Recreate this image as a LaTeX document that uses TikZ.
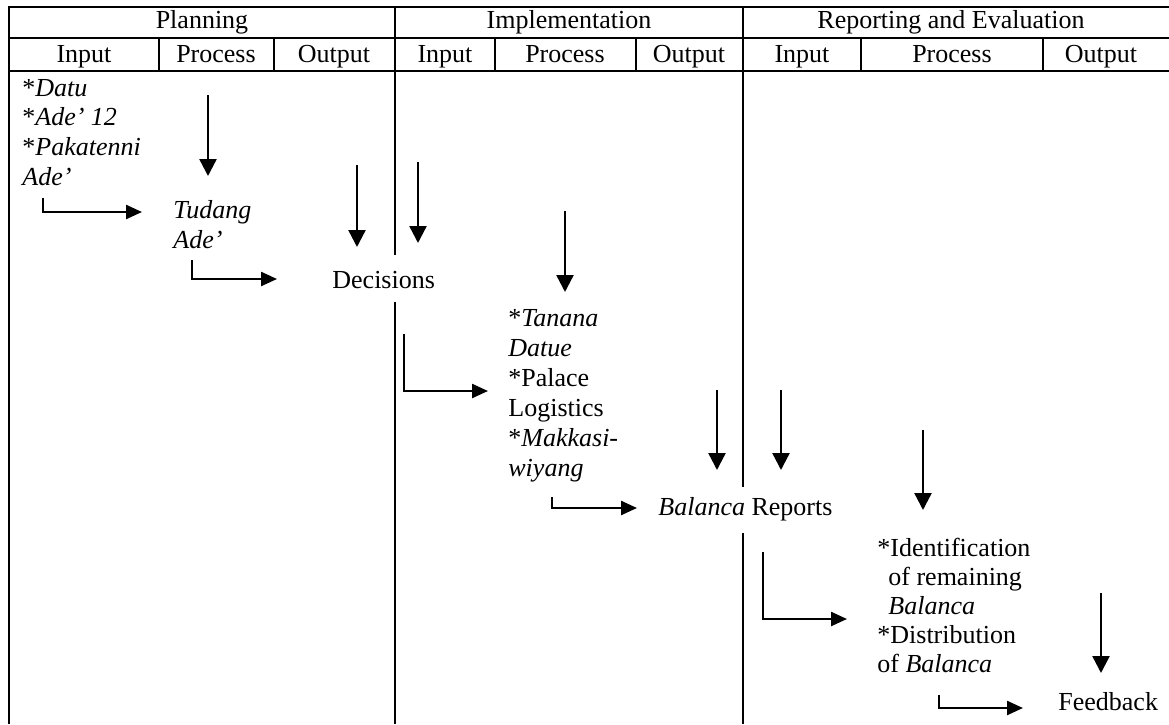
\documentclass[tikz,border=0pt]{standalone}
\usepackage{fontspec}
\setmainfont{Liberation Serif}
\usetikzlibrary{arrows.meta}
\tikzset{table line/.style={line width=1.2pt}}
\tikzset{flow arrow/.style={
		line width=1.2pt,
		-{Triangle[length=8.5pt,width=8.5pt]}
}}
\tikzset{elbow arrow/.style={
		line width=1.2pt,
		-{Triangle[length=8pt,width=7pt]}
}}
\tikzset{cell text/.style={inner sep=0pt, anchor=base, font=\fontsize{13}{15}\selectfont}}
\tikzset{list text/.style={inner sep=0pt, anchor=base west, align=left, font=\fontsize{13}{15}\selectfont}}

\begin{document}
\begin{tikzpicture}[x=0.5pt,y=-0.5pt]
  \useasboundingbox (0,0) rectangle (1169,724);

  % table frame
  \draw[table line] (9,7) -- (1169,7);
  \draw[table line] (9,38) -- (1169,38);
  \draw[table line] (9,71) -- (1169,71);
  \draw[table line] (9,6.4) -- (9,724);
  \draw[table line] (395,7) -- (395,255);
  \draw[table line] (395,302) -- (395,724);
  \draw[table line] (743,7) -- (743,487);
  \draw[table line] (743,533) -- (743,724);
  \draw[table line] (159,38) -- (159,71);
  \draw[table line] (274,38) -- (274,71);
  \draw[table line] (495,38) -- (495,71);
  \draw[table line] (636,38) -- (636,71);
  \draw[table line] (861,38) -- (861,71);
  \draw[table line] (1043,38) -- (1043,71);

  % headings
  \node[cell text] (planning) at (202,28) {Planning};
  \node[cell text] (implementation) at (569,28) {Implementation};
  \node[cell text] (reporting) at (951,28) {Reporting and Evaluation};
  \node[cell text] (pin) at (84,62) {Input};
  \node[cell text] (ppro) at (216,62) {Process};
  \node[cell text] (pout) at (334,62) {Output};
  \node[cell text] (iin) at (445,62) {Input};
  \node[cell text] (ipro) at (565,62) {Process};
  \node[cell text] (iout) at (689,62) {Output};
  \node[cell text] (rin) at (802,62) {Input};
  \node[cell text] (rpro) at (952,62) {Process};
  \node[cell text] (rout) at (1101,62) {Output};

  % contents (placed at the baseline of their last line)
  \node[list text, font=\fontsize{13}{14.8}\selectfont] (sources) at (22,185)
    {*\textit{Datu}\\*\textit{Ade' 12}\\*\textit{Pakatenni}\\\textit{Ade'}};
  \node[list text] (tudang) at (173,248) {\textit{Tudang}\\\textit{Ade'}};
  \node[list text] (decisions) at (332,288) {Decisions};
  \node[list text] (logistics) at (508,476)
    {*\textit{Tanana}\\\textit{Datue}\\*Palace\\Logistics\\*\textit{Makkasi-}\\\textit{wiyang}};
  \node[list text] (reports) at (658,515) {\textit{Balanca} Reports};
  \node[list text, font=\fontsize{13}{14.4}\selectfont] (distribution) at (877,672)
    {*Identification\\\hspace{5.5pt}of remaining\\\hspace{5.5pt}\textit{Balanca}\\*Distribution\\of \textit{Balanca}};
  \node[list text] (feedback) at (1058,710) {Feedback};

  % arrow ends
  \coordinate (d1a) at (208,95);   \coordinate (d1b) at (208,176);
  \coordinate (d2a) at (357,165);  \coordinate (d2b) at (357,247);
  \coordinate (d3a) at (418,162);  \coordinate (d3b) at (418,243);
  \coordinate (d4a) at (565,211);  \coordinate (d4b) at (565,292);
  \coordinate (d5a) at (717,390);  \coordinate (d5b) at (717,470);
  \coordinate (d6a) at (781,390);  \coordinate (d6b) at (781,470);
  \coordinate (d7a) at (923,430);  \coordinate (d7b) at (923,510);
  \coordinate (d8a) at (1101,593); \coordinate (d8b) at (1101,673);
  \coordinate (e1a) at (43,198);   \coordinate (e1b) at (142,212);
  \coordinate (e2a) at (192,260);  \coordinate (e2b) at (277,279);
  \coordinate (e3a) at (404,334);  \coordinate (e3b) at (488,391);
  \coordinate (e4a) at (552,497);  \coordinate (e4b) at (637,508);
  \coordinate (e5a) at (763,552);  \coordinate (e5b) at (847,619);
  \coordinate (e6a) at (939,695);  \coordinate (e6b) at (1023,708);

  \draw[flow arrow] (d1a) -- (d1b);
  \draw[flow arrow] (d2a) -- (d2b);
  \draw[flow arrow] (d3a) -- (d3b);
  \draw[flow arrow] (d4a) -- (d4b);
  \draw[flow arrow] (d5a) -- (d5b);
  \draw[flow arrow] (d6a) -- (d6b);
  \draw[flow arrow] (d7a) -- (d7b);
  \draw[flow arrow] (d8a) -- (d8b);

  \draw[elbow arrow] (e1a) |- (e1b);
  \draw[elbow arrow] (e2a) |- (e2b);
  \draw[elbow arrow] (e3a) |- (e3b);
  \draw[elbow arrow] (e4a) |- (e4b);
  \draw[elbow arrow] (e5a) |- (e5b);
  \draw[elbow arrow] (e6a) |- (e6b);
\end{tikzpicture}
\end{document}
